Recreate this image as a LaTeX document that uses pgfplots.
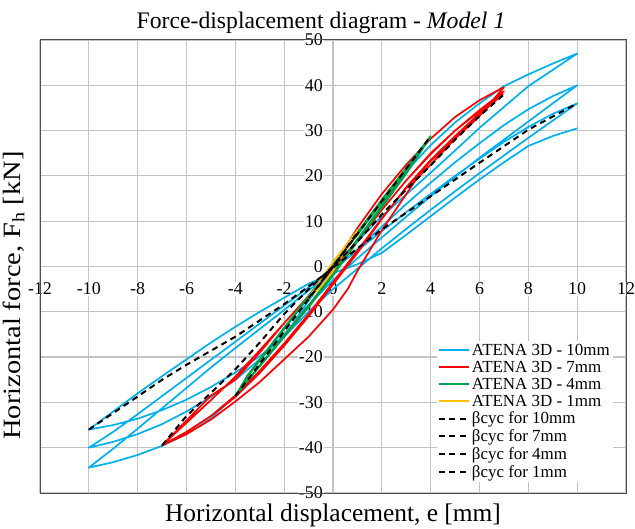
\documentclass[border=0pt]{standalone}
\usepackage{fontspec}
\setmainfont{Liberation Serif}
\usepackage{pgfplots}
\pgfplotsset{compat=1.18}
\definecolor{cblue}{HTML}{00B0F0}
\definecolor{cred}{HTML}{FF0000}
\definecolor{cgreen}{HTML}{00A04A}
\definecolor{corange}{HTML}{FFC000}
\definecolor{cgrid}{HTML}{C4C4C4}
\pgfplotsset{
  layers/mylayers/.define layer set={axis background,axis grid,axis ticks,axis lines,pre main,main,axis tick labels,axis descriptions,axis foreground}{},
}
\begin{document}
\begin{tikzpicture}
\begin{axis}[
  name=ax,
  set layers=mylayers,
  scale only axis, width=586bp, height=453bp,
  xmin=-12, xmax=12, ymin=-50, ymax=50,
  axis lines=middle,
  axis line style={-, cgrid, line width=1.2bp},
  grid=major, grid style={cgrid, line width=1.2bp},
  major tick length=0pt,
  xtick={-12,-10,...,12}, ytick={-50,-40,...,50},
  xticklabels={-12,-10,-8,-6,-4,-2,0,2,4,6,8,10,12},
  yticklabels={-50,-40,-30,-20,-10,0,10,20,30,40,50},
  hide obscured x ticks=false, hide obscured y ticks=false,
  tick label style={font=\fontsize{18}{18}\selectfont, fill=white, inner sep=1bp},
  xticklabel style={anchor=north, yshift=-15bp},
  yticklabel style={anchor=east, xshift=-9bp},
  title={Force-displacement diagram - \textit{Model 1}},
  title style={font=\fontsize{23.8}{23.8}\selectfont, at={(0.5,1)}, anchor=south, yshift=-3bp, xshift=-12bp},
  xlabel={Horizontal displacement, e [mm]},
  xlabel style={font=\fontsize{25.5}{25.5}\selectfont, at={(0.5,0)}, anchor=north, yshift=-7bp},
  ylabel={\scalebox{1.14}[1]{Horizontal force, F\textsubscript{h} [kN]}},
  ylabel style={font=\fontsize{25}{25}\selectfont, at={(0,0.5)}, rotate=90, anchor=south, yshift=12bp, xshift=-29bp},
  legend style={at={(0.677,0.336)}, anchor=north west, draw=none, fill=white,
    font=\fontsize{17}{17}\selectfont, row sep=0.3bp, inner sep=1bp},
  legend cell align=left,
  legend image code/.code={\draw[#1, line width=2bp] (0bp,0bp) -- (30bp,0bp);},
  clip=false,
]
% ATENA 3D - 10mm
\addplot[cblue, line width=1.7bp, line join=round] coordinates {
(0,0) (0.5,3.8) (1,7.5) (2,14.5) (3,21) (4,26.8) (5,31.8) (6,36) (7,39.8) (8,42.4) (9,44.8) (10,47)
(9,43.4) (8,39.8) (7,35.2) (6,30.6) (5,25.6) (4,20.7) (3,15.9) (2,11.1) (1,5.5) (0,-0.5) (-1,-7.5) (-2,-15.5) (-3,-22) (-4,-28.5) (-5,-33.5) (-6,-37) (-7,-39.6) (-8,-41.6) (-9,-43.2) (-10,-44.4)
(-9,-40.2) (-8,-35.8) (-7,-31.3) (-6,-26.8) (-5,-22.3) (-4,-18) (-3,-13.8) (-2,-9.6) (-1,-5.3) (0,-1) (1,3.8) (2,8.8) (3,13.8) (4,18.5) (5,23) (6,27.2) (7,31.2) (8,34.7) (9,37.6) (10,40)
(9,36) (8,32) (7,28) (6,24) (5,19.8) (4,15.5) (3,11) (2,6.4) (1,1.8) (0,-3) (-1,-8.5) (-2,-15) (-3,-20.5) (-4,-25) (-5,-28.8) (-6,-32) (-7,-34.8) (-8,-37) (-9,-38.7) (-10,-40)
(-9,-36.5) (-8,-32.6) (-7,-28.6) (-6,-24.6) (-5,-20.6) (-4,-16.6) (-3,-12.6) (-2,-8.6) (-1,-4.6) (0,-0.6) (1,3.5) (2,7.8) (3,12) (4,16) (5,20) (6,23.8) (7,27.5) (8,30.8) (9,33.7) (10,36)
(9,32.2) (8,28.4) (7,24.5) (6,20.6) (5,16.6) (4,12.5) (3,8.3) (2,4) (1,-0.5) (0,-5) (-1,-10) (-2,-15.5) (-3,-19.8) (-4,-23.4) (-5,-26.6) (-6,-29.4) (-7,-31.7) (-8,-33.6) (-9,-35) (-10,-36)
(-9,-32) (-8,-28) (-7,-24.2) (-6,-20.5) (-5,-16.8) (-4,-13.3) (-3,-10) (-2,-6.9) (-1,-3.8) (0,-1.5) (1,0.5) (2,3) (3,7) (4,11.1) (5,15.2) (6,19.2) (7,23) (8,26.6) (9,28.8) (10,30.5)
};
\addlegendentry{ATENA 3D - 10mm}
% ATENA 3D - 7mm
\addplot[cred, line width=1.7bp, line join=round] coordinates {
(0,0) (1,8.5) (2,16) (3,22.5) (4,28.2) (5,33) (6,36.7) (7,39.6)
(6,33.2) (5,28.2) (4,22.5) (3.4,19.2) (3,16) (2,8) (1,-1) (0.6,-5) (0,-9.5) (-1,-15.5) (-2,-20.5) (-3,-25.5) (-4,-29.8) (-5,-33.8) (-6,-37) (-7,-39.5)
(-6,-34) (-5,-28.5) (-4,-25) (-3,-19) (-2,-12.5) (-1,-6.5) (0,-0.5) (1,5.5) (2,12.5) (3,19) (4,25) (5,30) (6,34.5) (7,38.7)
(6,33.8) (5,28.8) (4,23.5) (3,17.5) (2,10.5) (1,3) (0,-4) (-1,-11) (-2,-17.5) (-3,-23.5) (-4,-28.8) (-5,-33) (-6,-36.5) (-7,-39.5)
(-6,-34.5) (-5,-29.5) (-4,-24.3) (-3,-18.5) (-2,-12.5) (-1,-6.5) (0,-0.5) (1,5.8) (2,12.5) (3,19) (4,24.8) (5,30) (6,34.3) (6.95,38)
(6,33.5) (5,28.5) (4,23.3) (3,17.3) (2,10.6) (1,3.5) (0,-3.5) (-1,-10.5) (-2,-17) (-3,-23) (-4,-28.5) (-5,-33) (-6,-36.5) (-7,-39.5)
};
\addlegendentry{ATENA 3D - 7mm}
% ATENA 3D - 4mm
\addplot[cgreen, line width=1.7bp, line join=round] coordinates {
(0,0) (1,7.5) (2,14.8) (3,21.8) (4,28.8)
(3.5,24.5) (3,20.5) (2,13) (1,5.5) (0,-2) (-1,-9) (-2,-15.5) (-3,-22) (-4,-28.6)
(-3.5,-24) (-3,-20.5) (-2,-13.5) (-1,-6.5) (0,0.5) (1,7.3) (2,14.5) (3,21.5) (4,28.6)
(3.5,24.8) (3,20.8) (2,13.4) (1,6) (0,-1.5) (-1,-8.6) (-2,-15.2) (-3,-21.8) (-4,-28.6)
(-3.5,-24.3) (-3,-20.8) (-2,-13.8) (-1,-6.8) (0,0.2) (1,7) (2,14.2) (3,21.3) (4,28.5)
};
\addlegendentry{ATENA 3D - 4mm}
% ATENA 3D - 1mm
\addplot[corange, line width=1.7bp, line join=round] coordinates {
(0,0) (0.5,4) (1,8) (0.5,3.5) (0,-1) (-0.5,-4.5) (-1,-7) (-0.5,-3) (0,1) (0.5,4.5) (1,8)
};
\addlegendentry{ATENA 3D - 1mm}
% beta cyc
\addplot[black, line width=2bp, dash pattern=on 6bp off 4.5bp] coordinates {
(-10,-36) (-8,-28.7) (-7,-25) (-6,-21.7) (-4,-15.5) (-2,-8.3) (-1,-4.4) (0,-0.3) (1,4) (2,8.2) (4,15.5) (6,22.9) (8,30.2) (10,36)
};
\addlegendentry{βcyc for 10mm}
\addplot[black, line width=2bp, dash pattern=on 6bp off 4.5bp] coordinates {
(-7,-39.5) (-6,-33) (-5,-27.9) (-4,-22.7) (-3,-16.8) (-2,-10.5) (-1,-5) (0,0) (1,5.5) (2,11.5) (3,17) (4,22.3) (5,28) (6,33.2) (7,38)
};
\addlegendentry{βcyc for 7mm}
\addplot[black, line width=2bp, dash pattern=on 6bp off 4.5bp] coordinates {
(-4,-28.6) (-3,-21.5) (-2,-14.3) (-1,-7.2) (0,0) (1,7.2) (2,14.4) (3,21.6) (4,28.8)
};
\addlegendentry{βcyc for 4mm}
\addplot[black, line width=2bp, dash pattern=on 6bp off 4.5bp] coordinates {
(-1,-7) (0,0) (1,7.5)
};
\addlegendentry{βcyc for 1mm}
\draw[black!70, line width=1bp] (rel axis cs:0,0) rectangle (rel axis cs:1,1);
\end{axis}
\pgfresetboundingbox
\path[use as bounding box] ([shift={(-40bp,-36bp)}]ax.south west) rectangle ([shift={(9bp,40bp)}]ax.north east);
\end{tikzpicture}
\end{document}
